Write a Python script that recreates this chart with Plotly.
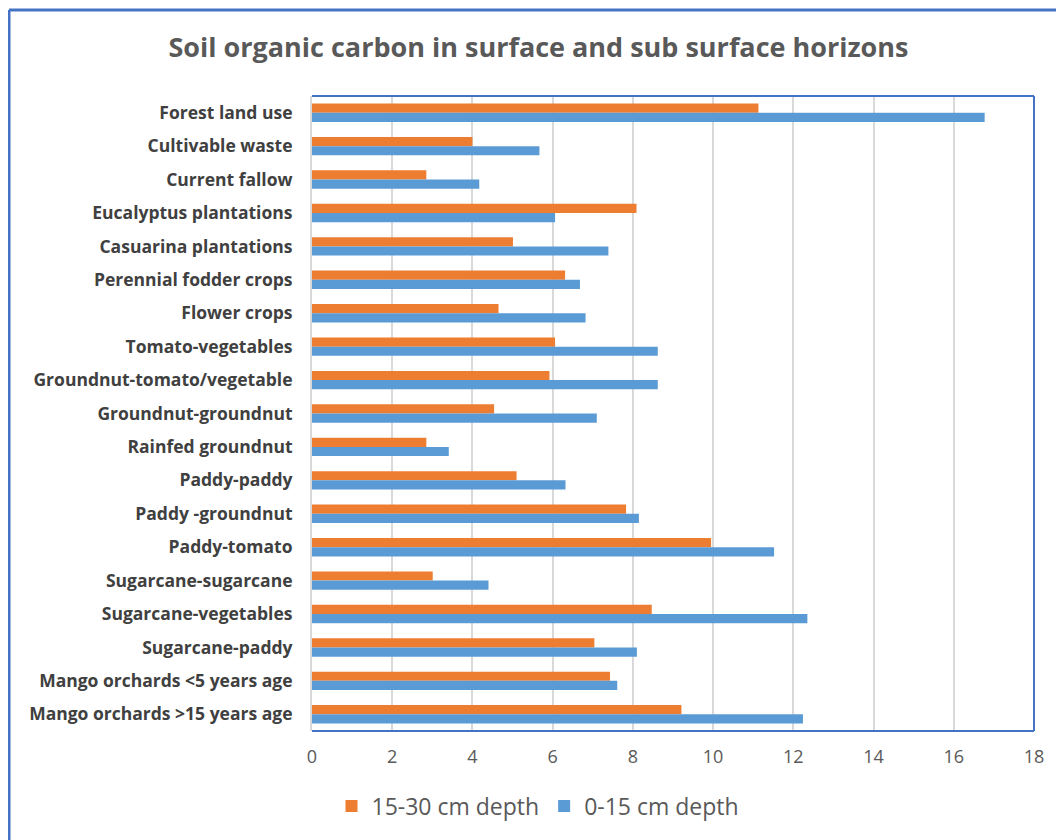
import plotly.graph_objects as go

categories = [
    "Forest land use", "Cultivable waste", "Current fallow", "Eucalyptus plantations",
    "Casuarina plantations", "Perennial fodder crops", "Flower crops", "Tomato-vegetables",
    "Groundnut-tomato/vegetable", "Groundnut-groundnut", "Rainfed groundnut", "Paddy-paddy",
    "Paddy -groundnut", "Paddy-tomato", "Sugarcane-sugarcane", "Sugarcane-vegetables",
    "Sugarcane-paddy", "Mango orchards <5 years age", "Mango orchards >15 years age",
]
depth_15_30 = [11.13, 4.0, 2.85, 8.09, 5.01, 6.31, 4.65, 6.06, 5.92, 4.54, 2.85, 5.10,
               7.83, 9.95, 3.01, 8.47, 7.04, 7.43, 9.21]
depth_0_15 = [16.77, 5.67, 4.17, 6.06, 7.39, 6.68, 6.82, 8.62, 8.62, 7.10, 3.41, 6.32,
              8.15, 11.52, 4.40, 12.35, 8.10, 7.61, 12.24]
x_ticks = [0, 2, 4, 6, 8, 10, 12, 14, 16, 18]

ORANGE = "#ED7D31"
BLUE = "#5B9BD5"
BORDER = "#4472C4"
FONT = "Open Sans, Liberation Sans, Arial"

fig = go.Figure()
fig.add_trace(go.Bar(y=categories, x=depth_15_30, orientation="h", name="15-30 cm depth",
                     marker=dict(color=ORANGE, line=dict(width=0))))
fig.add_trace(go.Bar(y=categories, x=depth_0_15, orientation="h", name="0-15 cm depth",
                     marker=dict(color=BLUE, line=dict(width=0))))

OFF = 8  # page body margin
PL, PR, PT, PB = 312, 1034, 96, 731
W, H = 1064 - OFF, 840 - OFF
pw, ph = PR - PL, PB - PT


def px(x):
    return (x - PL) / pw


def py(y):
    return (PB - y) / ph


shapes = [
    dict(type="line", xref="paper", yref="paper", x0=0, x1=1, y0=1, y1=1,
         line=dict(color=BORDER, width=2)),
    dict(type="line", xref="paper", yref="paper", x0=1, x1=1, y0=0, y1=1,
         line=dict(color=BORDER, width=2)),
    dict(type="line", xref="paper", yref="paper", x0=0, x1=1, y0=0, y1=0,
         line=dict(color=BORDER, width=2)),
    dict(type="line", xref="paper", yref="paper", x0=px(9), x1=px(9), y0=py(850), y1=py(10),
         line=dict(color=BORDER, width=3)),
    dict(type="line", xref="paper", yref="paper", x0=px(9), x1=px(1070), y0=py(10), y1=py(10),
         line=dict(color=BORDER, width=3)),
]

fig.update_layout(
    width=W, height=H,
    margin=dict(l=PL - OFF, r=1064 - PR, t=PT - OFF, b=840 - PB, pad=0),
    paper_bgcolor="white", plot_bgcolor="white",
    barmode="group", bargap=0.45, bargroupgap=0,
    title=dict(text="<b>Soil organic carbon in surface and sub surface horizons</b>",
               x=((165 + 912) / 2 - OFF) / W, xanchor="center", y=1 - (48 - OFF) / H,
               yanchor="middle",
               font=dict(family=FONT, size=27, color="#595959")),
    xaxis=dict(range=[0, 18], tickvals=x_ticks, showgrid=True, gridcolor="#D9D9D9",
               gridwidth=2, zeroline=False, showline=False, ticks="", ticklabelstandoff=13,
               tickfont=dict(family=FONT, size=18, color="#595959")),
    yaxis=dict(autorange="reversed", showline=True, linecolor="#D9D9D9", linewidth=2,
               ticks="", ticklabelstandoff=14,
               tickfont=dict(family=FONT, size=17.5, color="#404040", weight="bold")),
    legend=dict(orientation="h", x=px(538), xanchor="center", y=py(806), yanchor="middle",
                font=dict(family=FONT, size=23, color="#595959"),
                traceorder="normal", itemwidth=30),
    shapes=shapes,
)

fig.write_html("out.html")
